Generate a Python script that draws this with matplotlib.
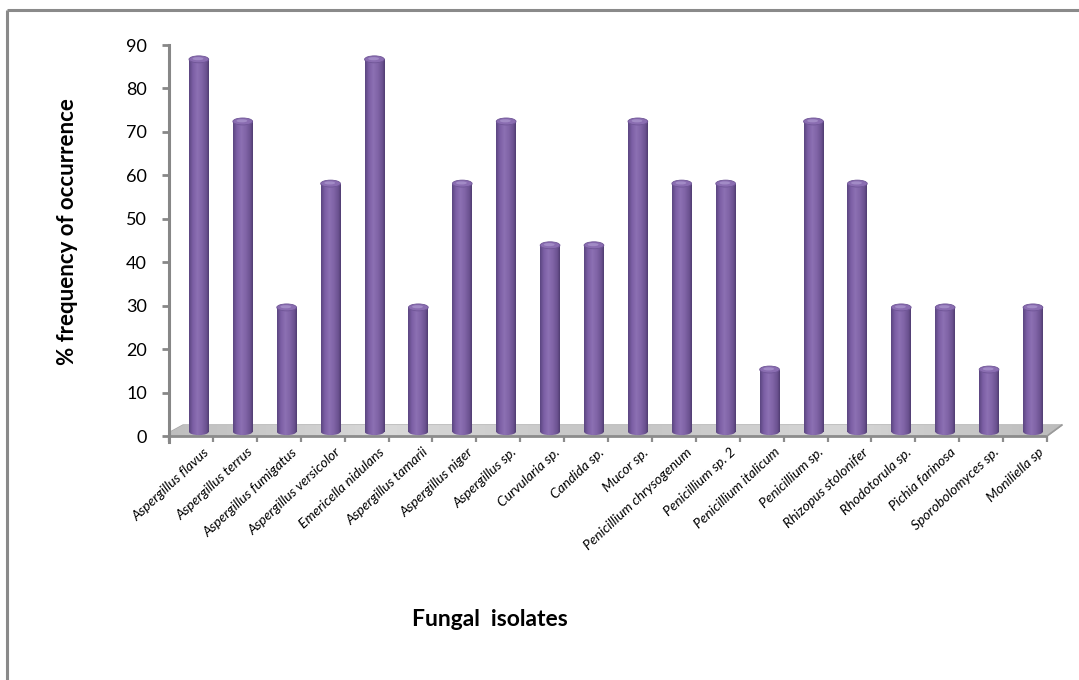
import numpy as np
import matplotlib
matplotlib.use("Agg")
import matplotlib.pyplot as plt
from matplotlib.patches import Polygon, Ellipse
from matplotlib.colors import LinearSegmentedColormap
from matplotlib.lines import Line2D

# Fungal isolates and their % frequency of occurrence
isolates = [
    "Aspergillus flavus", "Aspergillus terrus", "Aspergillus fumigatus",
    "Aspergillus versicolor", "Emericella nidulans", "Aspergillus tamarii",
    "Aspergillus niger", "Aspergillus sp.", "Curvularia sp.", "Candida sp.",
    "Mucor sp.", "Penicillium chrysogenum", "Penicillium sp. 2",
    "Penicillium italicum", "Penicillium sp.", "Rhizopus stolonifer",
    "Rhodotorula sp.", "Pichia farinosa", "Sporobolomyces sp.", "Moniliella sp",
]
frequency = [85.7, 71.4, 28.6, 57.1, 85.7, 28.6, 57.1, 71.4, 42.9, 42.9,
             71.4, 57.1, 57.1, 14.3, 71.4, 57.1, 28.6, 28.6, 14.3, 28.6]
yticks = list(range(0, 91, 10))

plt.rcParams['font.family'] = ['Lato', 'DejaVu Sans']

fig = plt.figure(figsize=(10.79, 6.80), dpi=100)
ax = fig.add_axes([169 / 1079, (680 - 442) / 680, 0.830, (442 - 45) / 680])

n = len(isolates)
ylo, yhi = -1.38, 90
xmax = 20.4
ax.set_xlim(0, xmax)
ax.set_ylim(ylo, yhi)

# outer chart border (top and left edges)
border = dict(color="#8a8a8a", lw=2.2, transform=fig.transFigure, solid_capstyle="butt")
fig.add_artist(Line2D([7 / 1079, 1], [1 - 10 / 680, 1 - 10 / 680], **border))
fig.add_artist(Line2D([7 / 1079, 7 / 1079], [1 - 10 / 680, 0], **border))

# spines / y axis
for s in ["top", "right", "bottom"]:
    ax.spines[s].set_visible(False)
ax.spines["left"].set_color("#878787")
ax.spines["left"].set_linewidth(2.2)
ax.set_yticks(yticks)
ax.set_yticklabels([str(t) for t in yticks], fontsize=13)
ax.tick_params(axis="y", length=5, width=2, color="#878787", pad=11)
ax.set_xticks([])

# floor of the 3D plot area
depth = 2.53
floor = Polygon([(-0.14, 0), (n, 0), (n + 0.34, depth), (0.32, depth)],
                closed=True, facecolor="none", edgecolor="#a6a6a6", lw=1, zorder=1)
ax.add_patch(floor)
fg = np.linspace(0, 1, 256).reshape(1, -1)
floor_cmap = LinearSegmentedColormap.from_list(
    "floor", ["#bdbdbd", "#d9d9d9", "#c4c4c4", "#d6d6d6", "#bcbcbc"])
im = ax.imshow(fg, cmap=floor_cmap, extent=[-0.2, n + 0.4, 0, depth],
               aspect="auto", zorder=1, origin="lower")
im.set_clip_path(floor)
ax.plot([-0.14, n], [0, 0], color="#8c8c8c", lw=2.0, zorder=2, solid_capstyle="butt")
ax.plot([n, n + 0.34], [0, depth], color="#9a9a9a", lw=1.2, zorder=2)
ax.vlines(np.arange(n + 1), ylo, 0, color="#8c8c8c", lw=1.6, zorder=2, clip_on=False)

# cylinders
bar_cmap = LinearSegmentedColormap.from_list(
    "cyl", [(0.0, "#5a4580"), (0.2, "#7c5fa5"), (0.42, "#8c70b3"),
            (0.65, "#8064a6"), (0.88, "#6a518f"), (1.0, "#4f3c70")])
xpos = np.arange(n) + 0.68
width = 0.45
base = 1.0
cap_h = 1.6
bars = ax.bar(xpos, frequency, width=width, bottom=base, color="none",
              edgecolor="none", zorder=3)
for b in bars:
    x0, w = b.get_x(), b.get_width()
    y0, h = b.get_y(), b.get_height()
    xc = x0 + w / 2
    body = ax.imshow(fg, cmap=bar_cmap, extent=[x0, x0 + w, y0, y0 + h],
                     aspect="auto", zorder=3, origin="lower")
    body.set_clip_path(b)
    bottom = Ellipse((xc, y0), w, cap_h, facecolor="none", edgecolor="none", zorder=3)
    ax.add_patch(bottom)
    bim = ax.imshow(fg, cmap=bar_cmap, extent=[x0, x0 + w, y0 - cap_h, y0 + cap_h],
                    aspect="auto", zorder=3, origin="lower")
    bim.set_clip_path(bottom)
    top = y0 + h
    ax.add_patch(Ellipse((xc, top), w, cap_h, facecolor="#8a6db1",
                         edgecolor="#6f5596", lw=0.6, zorder=4))
    ax.add_patch(Ellipse((xc - 0.02, top + 0.15), w * 0.55, cap_h * 0.45,
                         facecolor="#a28bc6", edgecolor="none", zorder=5))

ax.set_xlim(0, xmax)
ax.set_ylim(ylo, yhi)

# category labels
for xc, name in zip(xpos, isolates):
    ax.text(xc + 0.1, -2.3, name, rotation=43, rotation_mode="anchor",
            ha="right", va="top", fontsize=10, style="italic", clip_on=False)

fig.text(68 / 1079, 1 - 232 / 680, "% frequency of occurrence", rotation=90,
         ha="center", va="center", fontsize=16, fontweight="bold")
fig.text(490 / 1079, 1 - 620 / 680, "Fungal  isolates", ha="center", va="center",
         fontsize=16.5, fontweight="bold")

fig.savefig("out.png", dpi=100, facecolor="white")
